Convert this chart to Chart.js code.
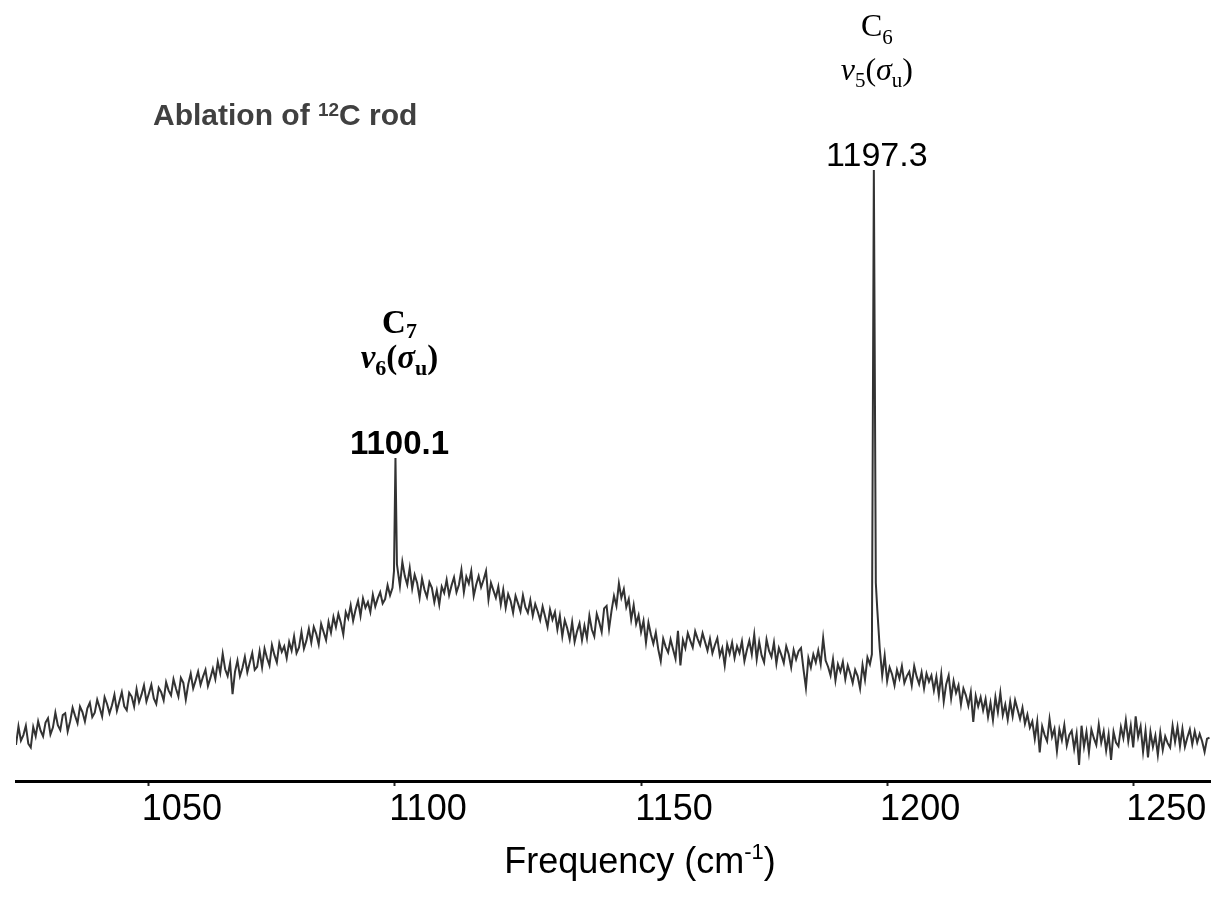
<!DOCTYPE html>
<html>
<head>
<meta charset="utf-8">
<script src="https://cdn.jsdelivr.net/npm/chart.js@4.4.1/dist/chart.umd.min.js"></script>
<style>
html,body{margin:0;padding:0;background:#fff;}
#wrap{width:1213px;height:913px;position:relative;}
</style>
</head>
<body>
<div id="wrap"><canvas id="c"></canvas></div>
<script>
// Frequency (cm-1) of each sampled point
const frequency = [
1023,1023.5,1024,1024.5,1025,1025.5,1026,1026.5,1027,1027.5,
1028,1028.5,1029,1029.5,1030,1030.5,1031,1031.5,1032,1032.5,
1033,1033.5,1034,1034.5,1035,1035.5,1036,1036.5,1037,1037.5,
1038,1038.5,1039,1039.5,1040,1040.5,1041,1041.5,1042,1042.5,
1043,1043.5,1044,1044.5,1045,1045.5,1046,1046.5,1047,1047.5,
1048,1048.5,1049,1049.5,1050,1050.5,1051,1051.5,1052,1052.5,
1053,1053.5,1054,1054.5,1055,1055.5,1056,1056.5,1057,1057.5,
1058,1058.5,1059,1059.5,1060,1060.5,1061,1061.5,1062,1062.5,
1063,1063.5,1064,1064.5,1065,1065.5,1066,1066.5,1067,1067.5,
1068,1068.5,1069,1069.5,1070,1070.5,1071,1071.5,1072,1072.5,
1073,1073.5,1074,1074.5,1075,1075.5,1076,1076.5,1077,1077.5,
1078,1078.5,1079,1079.5,1080,1080.5,1081,1081.5,1082,1082.5,
1083,1083.5,1084,1084.5,1085,1085.5,1086,1086.5,1087,1087.5,
1088,1088.5,1089,1089.5,1090,1090.5,1091,1091.5,1092,1092.5,
1093,1093.5,1094,1094.5,1095,1095.5,1096,1096.5,1097,1097.5,
1098,1098.5,1099,1099.5,1099.8,1100.1,
1100.4,1101,1101.5,1102,1102.5,1103,1103.5,
1104,1104.5,1105,1105.5,1106,1106.5,1107,1107.5,1108,1108.5,
1109,1109.5,1110,1110.5,1111,1111.5,1112,1112.5,1113,1113.5,
1114,1114.5,1115,1115.5,1116,1116.5,1117,1117.5,1118,1118.5,
1119,1119.5,1120,1120.5,1121,1121.5,1122,1122.5,1123,1123.5,
1124,1124.5,1125,1125.5,1126,1126.5,1127,1127.5,1128,1128.5,
1129,1129.5,1130,1130.5,1131,1131.5,1132,1132.5,1133,1133.5,
1134,1134.5,1135,1135.5,1136,1136.5,1137,1137.5,1138,1138.5,
1139,1139.5,1140,1140.5,1141,1141.5,1142,1142.5,1143,1143.5,
1144,1144.5,1145,1145.5,1146,1146.5,1147,1147.5,1148,1148.5,
1149,1149.5,1150,1150.5,1151,1151.5,1152,1152.5,1153,1153.5,
1154,1154.5,1155,1155.5,1156,1156.5,1157,1157.5,1158,1158.5,
1159,1159.5,1160,1160.5,1161,1161.5,1162,1162.5,1163,1163.5,
1164,1164.5,1165,1165.5,1166,1166.5,1167,1167.5,1168,1168.5,
1169,1169.5,1170,1170.5,1171,1171.5,1172,1172.5,1173,1173.5,
1174,1174.5,1175,1175.5,1176,1176.5,1177,1177.5,1178,1178.5,
1179,1179.5,1180,1180.5,1181,1181.5,1182,1182.5,1183,1183.5,
1184,1184.5,1185,1185.5,1186,1186.5,1187,1187.5,1188,1188.5,
1189,1189.5,1190,1190.5,1191,1191.5,1192,1192.5,1193,1193.5,
1194,1194.5,1195,1195.5,1196,1196.5,1196.9,1197.3,
1197.7,1198,1198.5,1199,1199.5,
1200,1200.5,1201,1201.5,1202,1202.5,1203,1203.5,1204,1204.5,
1205,1205.5,1206,1206.5,1207,1207.5,1208,1208.5,1209,1209.5,
1210,1210.5,1211,1211.5,1212,1212.5,1213,1213.5,1214,1214.5,
1215,1215.5,1216,1216.5,1217,1217.5,1218,1218.5,1219,1219.5,
1220,1220.5,1221,1221.5,1222,1222.5,1223,1223.5,1224,1224.5,
1225,1225.5,1226,1226.5,1227,1227.5,1228,1228.5,1229,1229.5,
1230,1230.5,1231,1231.5,1232,1232.5,1233,1233.5,1234,1234.5,
1235,1235.5,1236,1236.5,1237,1237.5,1238,1238.5,1239,1239.5,
1240,1240.5,1241,1241.5,1242,1242.5,1243,1243.5,1244,1244.5,
1245,1245.5,1246,1246.5,1247,1247.5,1248,1248.5,1249,1249.5,
1250,1250.5,1251,1251.5,1252,1252.5,1253,1253.5,1254,1254.5,
1255,1255.5,1256,1256.5,1257,1257.5,1258,1258.5,1259,1259.5,
1260,1260.5,1261,1261.5,1262,1262.5,1263,1263.5,1264,1264.5,1265,1265.5
];
// Absorbance (arbitrary units, 0-100)
const intensity = [
5.8,8.8,6.5,7.4,8.9,6.0,5.4,8.7,7.2,9.6,
8.1,7.2,9.4,10.1,7.5,8.6,11.0,9.0,8.2,10.6,
10.9,8.0,9.6,11.8,10.5,9.3,12.0,11.1,9.6,11.7,
12.6,10.3,11.0,13.1,11.8,10.4,13.5,12.4,10.9,12.2,
13.9,11.3,12.8,14.3,12.0,11.4,14.2,13.6,12.0,14.8,
12.7,13.9,15.4,12.8,14.1,15.5,13.3,12.4,15.0,14.3,
13.0,15.9,14.6,13.8,16.4,14.9,13.6,16.6,15.8,13.1,
15.6,17.3,14.9,16.2,17.6,15.5,16.8,17.9,15.3,16.6,
18.1,16.4,19.2,17.4,20.5,18.0,16.9,19.0,14.0,17.6,
19.4,16.9,18.2,20.0,17.5,19.1,20.6,17.9,18.4,20.9,
18.3,21.3,19.8,18.6,21.9,20.3,19.1,22.2,20.8,21.7,
19.8,22.4,21.0,23.3,20.6,21.5,24.0,21.3,22.6,24.5,
22.3,24.8,23.7,22.0,25.3,24.0,22.7,25.6,23.9,26.4,
24.8,26.9,25.5,23.6,27.2,26.2,28.3,25.8,27.6,29.0,
26.6,29.4,27.9,28.8,27.2,30.0,28.1,29.4,30.4,28.6,
29.3,31.5,29.9,31.1,33.8,52.0,
34.9,31.4,35.3,33.0,31.6,34.3,31.0,
33.2,31.9,29.5,32.6,30.8,29.6,32.0,31.1,28.8,30.7,
28.4,31.3,30.3,32.4,29.9,31.5,32.8,30.4,31.6,34.0,
30.4,32.9,31.8,33.8,29.8,31.6,33.0,31.2,32.4,33.8,
29.2,31.9,30.7,29.5,31.3,28.4,30.8,27.9,30.1,29.0,
27.1,29.8,28.6,27.3,29.9,28.0,27.1,29.1,26.6,28.5,
27.3,25.9,28.1,26.5,24.8,27.6,26.0,27.2,24.4,26.6,
23.3,25.9,24.6,22.8,25.6,22.4,24.1,25.4,22.7,25.0,
23.0,26.6,24.4,23.3,26.9,25.6,24.0,27.8,28.2,24.5,
27.4,29.8,28.2,31.8,29.5,30.9,28.0,29.3,26.0,28.3,
25.3,26.7,24.0,25.8,22.3,25.5,23.6,22.1,23.9,21.2,
19.3,22.9,21.6,20.7,22.8,21.2,19.7,24.2,18.6,22.7,
21.4,23.8,22.6,21.5,24.1,22.9,21.9,23.8,22.4,21.0,
22.9,20.6,21.9,23.0,20.2,21.4,18.6,22.0,20.5,22.3,
19.8,21.7,20.6,22.5,19.3,21.1,22.6,20.4,23.6,19.6,
22.4,20.2,19.1,22.8,21.0,20.0,22.3,18.9,21.4,20.3,
19.0,21.7,20.4,18.3,21.1,19.6,20.9,21.4,18.0,15.0,
19.8,18.3,20.4,19.1,21.0,18.8,23.0,19.4,18.4,17.0,
19.6,16.2,18.8,17.6,19.2,16.4,18.6,17.3,15.8,17.9,
16.9,14.9,18.7,16.3,19.9,18.8,20.4,98.4,
31.9,27.6,21.3,17.0,20.2,
16.1,18.3,17.2,15.4,17.9,16.5,18.5,15.8,16.9,17.6,
15.4,18.5,16.8,15.6,17.5,14.9,17.3,16.0,17.0,14.6,
16.8,13.8,17.2,12.8,15.6,17.0,13.3,16.1,14.2,15.4,
12.3,14.9,13.8,12.1,14.3,9.5,13.7,12.0,13.5,11.4,
13.2,10.3,12.6,9.8,13.5,11.1,14.2,10.6,12.3,9.9,
12.8,10.4,13.0,11.5,10.0,11.8,9.2,10.7,8.6,9.6,
6.8,9.6,4.6,8.8,7.4,6.4,10.0,7.1,8.4,4.8,
8.3,6.6,9.0,5.7,7.4,8.1,5.2,7.6,2.6,8.9,
5.5,7.9,4.6,8.3,6.9,5.8,9.1,6.2,8.0,4.9,
7.5,3.4,7.9,6.2,5.6,8.7,6.9,9.8,6.4,8.9,
5.4,10.4,7.1,8.8,4.7,8.1,3.8,7.9,5.5,7.3,
4.2,7.8,5.0,7.2,6.1,5.4,8.9,6.3,8.7,5.6,
8.4,5.5,7.0,8.3,5.9,8.0,6.2,7.6,6.4,4.7,6.8,7.0
];
const tickValues = [1050, 1100, 1150, 1200, 1250];
const peakFrequencies = [1100.1, 1197.3];
const peakLabels = ['1100.1', '1197.3'];
const speciesLabels = ['7', '6'];      // C7, C6
const modeLabels = ['6', '5'];         // nu6, nu5
const panelTitle = ['Ablation of ', '12', 'C rod'];
const axisTitle = ['Frequency (cm', '-1', ')'];

const SANS = '"Liberation Sans", Arial, Helvetica, sans-serif';
const SERIF = '"Liberation Serif", "Times New Roman", Times, serif';

function drawRich(ctx, segs, x0, baseY, align) {
  let w = 0;
  segs.forEach(s => { ctx.font = s.font; s.w = ctx.measureText(s.t).width; w += s.w; });
  let x = align === 'left' ? x0 : x0 - w / 2;
  ctx.textAlign = 'left';
  ctx.textBaseline = 'alphabetic';
  segs.forEach(s => {
    ctx.font = s.font;
    ctx.fillStyle = s.color || '#000';
    ctx.fillText(s.t, x, baseY + (s.dy || 0));
    x += s.w;
  });
}

const annotate = {
  id: 'annotate',
  afterDraw(chart) {
    const ctx = chart.ctx;
    const xs = chart.scales.x, ys = chart.scales.y;
    ctx.save();
    peakFrequencies.forEach((f, i) => {
      const top = ys.getPixelForValue(intensity[frequency.indexOf(f)]);
      const bold = i === 0;
      const cx = xs.getPixelForValue(f) + (bold ? 4 : 3);
      const b = bold ? 'bold ' : '';
      const bi = bold ? 'bold italic ' : 'italic ';
      const big = bold ? 33 : 32, small = bold ? 22 : 21;
      // value label
      drawRich(ctx, [{t: peakLabels[i], font: b + (bold ? 33 : 34) + 'px ' + SANS}], cx, top - 4);
      // mode line  nu_n(sigma_u)
      drawRich(ctx, [
        {t: 'ν', font: bi + big + 'px ' + SERIF},
        {t: modeLabels[i], font: b + small + 'px ' + SERIF, dy: 7},
        {t: '(', font: b + big + 'px ' + SERIF},
        {t: 'σ', font: bi + big + 'px ' + SERIF},
        {t: 'u', font: b + small + 'px ' + SERIF, dy: 7},
        {t: ')', font: b + big + 'px ' + SERIF}
      ], cx, top - 90);
      // species
      drawRich(ctx, [
        {t: 'C', font: b + big + 'px ' + SERIF},
        {t: speciesLabels[i], font: b + small + 'px ' + SERIF, dy: bold ? 5 : 8}
      ], cx, top - (bold ? 125 : 134));
    });
    // panel title
    drawRich(ctx, [
      {t: panelTitle[0], font: 'bold 30px ' + SANS, color: '#404040'},
      {t: panelTitle[1], font: 'bold 19px ' + SANS, color: '#404040', dy: -9},
      {t: panelTitle[2], font: 'bold 30px ' + SANS, color: '#404040'}
    ], 153, 125, 'left');
    // axis title
    drawRich(ctx, [
      {t: axisTitle[0], font: '36px ' + SANS},
      {t: axisTitle[1], font: '22px ' + SANS, dy: -14},
      {t: axisTitle[2], font: '36px ' + SANS}
    ], 640, 873);
    ctx.restore();
  }
};

new Chart(document.getElementById('c'), {
  type: 'line',
  data: {
    datasets: [{
      data: frequency.map((f, i) => ({x: f, y: intensity[i]})),
      borderColor: '#333333',
      borderWidth: 2,
      pointRadius: 0,
      tension: 0,
      fill: false
    }]
  },
  options: {
    responsive: true,
    maintainAspectRatio: false,
    animation: false,
    events: [],
    layout: {padding: {left: 16, right: 3, top: 160, bottom: 0}},
    plugins: {legend: {display: false}, tooltip: {enabled: false}, title: {display: false}},
    scales: {
      x: {
        type: 'linear',
        min: 1023,
        max: 1265.6,
        afterBuildTicks(scale) { scale.ticks = tickValues.map(v => ({value: v})); },
        afterFit(scale) { scale.height = 132; scale.paddingLeft = 0; scale.paddingRight = 0; },
        border: {display: true, color: '#000', width: 3},
        grid: {display: true, drawOnChartArea: false, drawTicks: true, tickLength: 5, tickWidth: 2, tickColor: '#222'},
        ticks: {
          color: '#000',
          font: {family: SANS, size: 36, lineHeight: 1.2},
          padding: 2,
          labelOffset: 33,
          maxRotation: 0,
          autoSkip: false,
          callback: v => String(v)
        }
      },
      y: {
        display: false,
        min: 0,
        max: 100
      }
    }
  },
  plugins: [annotate]
});
</script>
</body>
</html>
